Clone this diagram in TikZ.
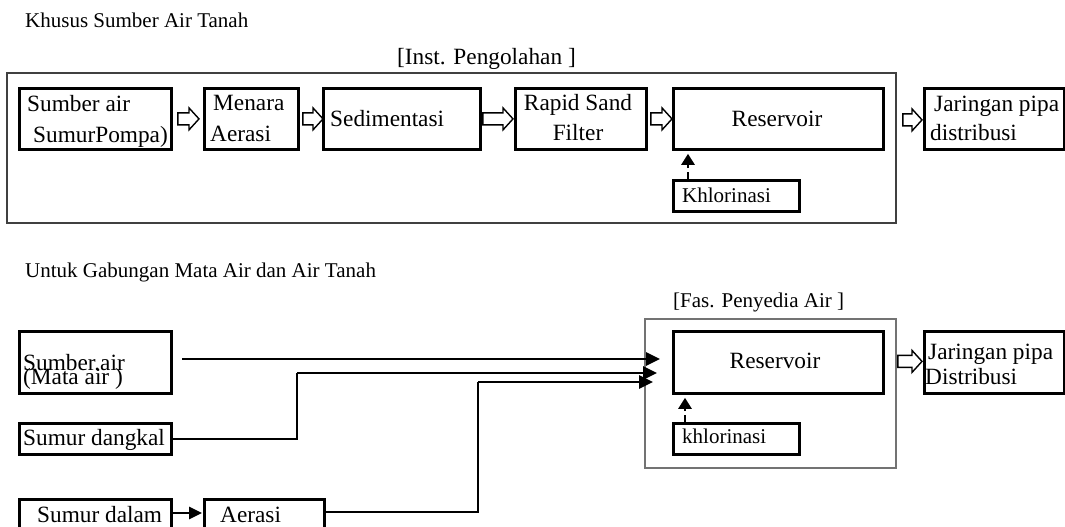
\documentclass[tikz,border=0pt]{standalone}
\usepackage{fontspec}
\setmainfont{Liberation Serif}
\usetikzlibrary{calc,arrows.meta}
\tikzset{
  box/.style={draw=black, line width=2.8pt, rectangle, inner sep=0pt, anchor=north west},
  frame/.style={draw=black!75, line width=1.1pt},
  txt/.style={inner sep=0pt, anchor=base west, font=\fontsize{23.3}{26}\selectfont},
  ctxt/.style={inner sep=0pt, anchor=base, font=\fontsize{23.3}{26}\selectfont},
  stxt/.style={inner sep=0pt, anchor=base west, font=\fontsize{21}{24}\selectfont},
  hollowline/.style={draw=black, line width=1.4pt, fill=white, line join=miter},
  feed/.style={line width=2.8pt, -{Triangle[length=14pt,width=13pt]}},
  thinline/.style={line width=1.3pt},
  chlor/.style={line width=2.6pt, dash pattern=on 7pt off 4pt, -{Triangle[length=11pt,width=13pt,sep=0pt]}},
}
\newcommand{\hollowarr}[2]{%
  \draw[hollowline] let \p1=#1, \p2=#2 in
    (\x1,\y1+6pt) -- (\x2-10pt,\y1+6pt) -- (\x2-10pt,\y1+11pt) -- (\x2,\y1)
    -- (\x2-10pt,\y1-11pt) -- (\x2-10pt,\y1-6pt) -- (\x1,\y1-6pt) -- cycle;}
\newcommand{\bx}[5]{\node[box, minimum width={(#4)-(#2)}, minimum height={(#5)-(#3)}] (#1) at (#2,#3) {};}
\begin{document}
\begin{tikzpicture}[x=1pt,y=-1pt]
\useasboundingbox (0,0) rectangle (1065,527);
\clip (0,0) rectangle (1065,527);
% ---------- top part ----------
\node[stxt] (h1) at (25,28) {Khusus Sumber Air Tanah};
\node[txt] (inst) at (397,64) {[Inst. Pengolahan ]};
\draw[frame] (7,73) rectangle (896,223);

\bx{sa}{18}{87}{170}{148}
\bx{ma}{203}{87}{297}{148}
\bx{sed}{322}{87}{479}{148}
\bx{rsf}{514}{87}{645}{148}
\bx{res}{672}{87}{882}{148}
\bx{jar}{923}{87}{1063}{148}
\bx{khl}{672}{179}{798}{210}

\node[txt] (sat1) at (27,111) {Sumber air};
\node[txt] (sat2) at (33,142) {SumurPompa)};
\node[txt] (mat1) at (213,110) {Menara};
\node[txt] (mat2) at (210,141) {Aerasi};
\node[txt] (sedt) at (330,126) {Sedimentasi};
\node[ctxt] (rsft1) at (578,110) {Rapid Sand};
\node[ctxt] (rsft2) at (578,140) {Filter};
\node[ctxt] (rest) at (777,126) {Reservoir};
\node[stxt] (khlt) at (682,202) {Khlorinasi};
\node[txt] (jart1) at (934,111) {Jaringan pipa};
\node[txt] (jart2) at (930,140) {distribusi};

\hollowarr{($(sa.east)+(5,0)$)}{($(ma.west)+(-4,0)$)}
\hollowarr{($(ma.east)+(3,0)$)}{($(sed.west)+(1,0)$)}
\hollowarr{($(sed.east)+(1,0)$)}{($(rsf.west)+(-1,0)$)}
\hollowarr{($(rsf.east)+(3,0)$)}{($(res.west)+(0,0)$)}
\hollowarr{($(res.east)+(18,1)$)}{($(jar.west)+(-1,1)$)}

\coordinate (c1s) at ($(khl.north west)+(16,0)$);
\coordinate (c1e) at ($(res.south west)+(16,3)$);
\draw[chlor] (c1s) -- (c1e);

% ---------- bottom part ----------
\node[stxt] (h2) at (25,277) {Untuk Gabungan Mata Air dan Air Tanah};
\node[stxt] (fas) at (673,307) {[Fas. Penyedia Air ]};
\draw[frame, draw=black!55] (645,319) rectangle (896,468);

\bx{sa2}{18}{330}{170}{392}
\bx{sd}{18}{422}{170}{453}
\bx{sdl}{18}{498}{170}{545}
\bx{aer}{203}{498}{323}{545}
\bx{res2}{672}{330}{882}{392}
\bx{khl2}{672}{422}{798}{453}
\bx{jar2}{923}{330}{1063}{392}

\node[txt] (sa2t1) at (23,370) {Sumber.air};
\node[txt] (sa2t2) at (23,384) {(Mata air )};
\node[txt] (sdt) at (23,445) {Sumur dangkal};
\node[txt] (sdlt) at (37,522) {Sumur dalam};
\node[txt] (aert) at (220,522) {Aerasi};
\node[ctxt] (res2t) at (775,368) {Reservoir};
\node[stxt] (khl2t) at (682,443) {khlorinasi};
\node[txt] (jar2t1) at (928,359) {Jaringan pipa};
\node[txt] (jar2t2) at (925,384) {Distribusi};

\hollowarr{($(res2.east)+(13,-1)$)}{($(jar2.west)+(-1,-1)$)}
\coordinate (c2s) at ($(khl2.north west)+(13,0)$);
\coordinate (c2e) at ($(res2.south west)+(13,3)$);
\draw[chlor] (c2s) -- (c2e);

% feed lines
\coordinate (f1s) at (182,359);
\coordinate (f1e) at (660,359);
\coordinate (j2) at (297,373);
\coordinate (f2e) at (657,373);
\coordinate (j3) at (478,382);
\coordinate (f3e) at (653,382);
\coordinate (a3) at ($(aer.north east)+(0,14)$);
\draw[feed] (f1s) -- (f1e);
\draw[feed] (j2) -- (f2e);
\draw[feed] (j3) -- (f3e);
\draw[thinline] (sd.east) -- (sd.east -| j2) -- (j2);
\draw[thinline] (a3) -- (a3 -| j3) -- (j3);
\coordinate (d1) at ($(sdl.north east)+(0,15)$);
\coordinate (d2) at ($(aer.north west)+(-1,15)$);
\draw[line width=2.8pt, -{Triangle[length=13pt,width=12pt]}] (d1) -- (d2);
\end{tikzpicture}
\end{document}
